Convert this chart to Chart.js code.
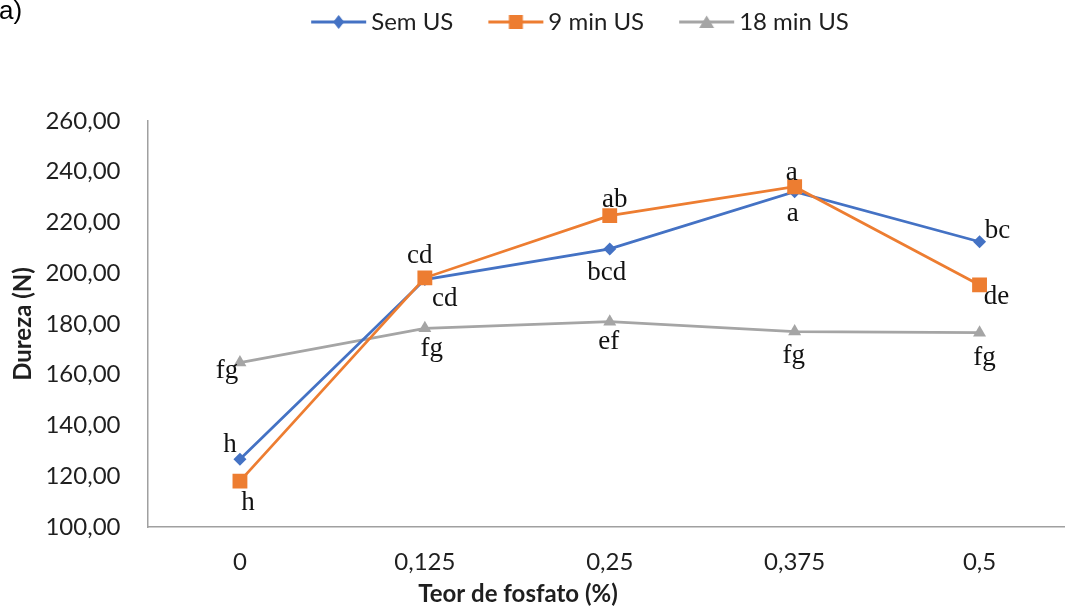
<!DOCTYPE html>
<html><head><meta charset="utf-8">
<script src="https://cdn.jsdelivr.net/npm/chart.js@4"></script>
<style>
html,body{margin:0;padding:0;overflow:hidden;background:#fff;width:1065px;height:610px}
#wrap{position:absolute;left:0;top:0;width:1160px;height:610px}
canvas{display:block}
</style></head><body>
<div id="wrap"><canvas id="c" width="1160" height="610"></canvas></div>
<script>
// ---- data ----
const categories = ['0', '0,125', '0,25', '0,375', '0,5'];
const seriesNames = ['Sem US', '9 min US', '18 min US'];
const semUS = [126.7, 197.5, 209.6, 232.1, 212.4];
const min9US = [118.1, 198.2, 222.7, 234.1, 195.4];
const min18US = [164.8, 178.3, 180.9, 177.0, 176.6];
const semUSLetters = ['h', 'cd', 'bcd', 'a', 'bc'];
const min9USLetters = ['h', 'cd', 'ab', 'a', 'de'];
const min18USLetters = ['fg', 'fg', 'ef', 'fg', 'fg'];
const yMin = 100, yMax = 260, yStep = 20;
const panelLabel = 'a)';
const xAxisTitle = 'Teor de fosfato (%)';
const yAxisTitle = 'Dureza (N)';

// ---- styles ----
const colors = ['#4472C4', '#ED7D31', '#A5A5A5'];
const letterSets = [semUSLetters, min9USLetters, min18USLetters];
// label offsets (dx, baseline dy) relative to each point
const letterOffsets = [
  [[-10, -7], [20, 26], [-3, 31], [-2, 29], [18, -4]],
  [[8, 29], [-5, -15], [5, -9], [-3, -7], [17, 19]],
  [[-13, 15], [7, 28], [-1, 27], [-1, 31], [5, 32]]
];
const textColor = '#1f1f1f';
const sans = 'Lato';

function legendImg(color, shape) {
  const c = document.createElement('canvas');
  c.width = 64; c.height = 24;
  const g = c.getContext('2d');
  g.strokeStyle = color; g.lineWidth = 3;
  g.beginPath(); g.moveTo(8, 12); g.lineTo(63, 12); g.stroke();
  g.fillStyle = color;
  const cx = 35.5, cy = 12;
  g.beginPath();
  if (shape === 'diamond') { g.moveTo(cx, cy - 7); g.lineTo(cx + 5.5, cy); g.lineTo(cx, cy + 7); g.lineTo(cx - 5.5, cy); }
  else if (shape === 'square') { g.rect(cx - 7, cy - 7, 14, 14); }
  else { g.moveTo(cx, cy - 6.5); g.lineTo(cx + 7.5, cy + 6); g.lineTo(cx - 7.5, cy + 6); }
  g.closePath(); g.fill();
  return c;
}
const legendImgs = [legendImg(colors[0], 'diamond'), legendImg(colors[1], 'square'), legendImg(colors[2], 'triangle')];

const annotate = {
  id: 'annotate',
  afterDatasetsDraw(chart) {
    const ctx = chart.ctx;
    ctx.save();
    ctx.font = '27px "Liberation Serif"';
    ctx.fillStyle = '#111';
    ctx.textAlign = 'center';
    ctx.textBaseline = 'alphabetic';
    letterSets.forEach((letters, di) => {
      const meta = chart.getDatasetMeta(di);
      letters.forEach((t, j) => {
        const p = meta.data[j];
        const o = letterOffsets[di][j];
        ctx.fillText(t, p.x + o[0], p.y + o[1]);
      });
    });
    // x axis title
    ctx.font = 'bold 24px ' + sans;
    ctx.fillStyle = textColor;
    ctx.textBaseline = 'middle';
    ctx.fillText(xAxisTitle, 518, 594);
    // panel label
    ctx.font = '26px "Liberation Sans"';
    ctx.fillStyle = '#000';
    ctx.textAlign = 'left';
    ctx.textBaseline = 'alphabetic';
    ctx.fillText(panelLabel, -1, 19);
    ctx.restore();
  }
};

const mk = (i, data, shape, r) => ({
  label: seriesNames[i], data, borderColor: colors[i], backgroundColor: colors[i],
  borderWidth: 2.75, pointStyle: shape, pointRadius: r, pointHoverRadius: r,
  pointBorderWidth: 0, pointBackgroundColor: colors[i], tension: 0, order: [1, 0, 2][i]
});

new Chart(document.getElementById('c'), {
  type: 'line',
  data: {
    labels: categories,
    datasets: [mk(0, semUS, 'rectRot', 6.5), mk(1, min9US, 'rect', 10.5), mk(2, min18US, 'triangle', 7.5)]
  },
  options: {
    responsive: false,
    animation: false,
    devicePixelRatio: 1,
    layout: { padding: { top: -25, left: 0, right: 0, bottom: 0 }, autoPadding: false },
    plugins: {
      tooltip: { enabled: false },
      legend: {
        position: 'top',
        labels: {
          usePointStyle: true,
          pointStyleWidth: 48,
          padding: 35,
          color: textColor,
          font: { family: sans, size: 24 },
          generateLabels(chart) {
            const items = Chart.defaults.plugins.legend.labels.generateLabels(chart);
            items.sort((a, b) => a.datasetIndex - b.datasetIndex);
            items.forEach(it => { it.pointStyle = legendImgs[it.datasetIndex]; });
            return items;
          }
        }
      },
      title: {
        display: true, text: ' ', weight: 500,
        font: { size: 10, lineHeight: 1 },
        padding: { top: 67, bottom: 0 }
      }
    },
    scales: {
      x: {
        type: 'category', offset: true,
        grid: { display: true, drawOnChartArea: false, drawTicks: false, offset: true },
        border: { display: true, color: '#A0A0A0', width: 1.5 },
        ticks: { color: textColor, font: { family: sans, size: 24 }, padding: 21, maxRotation: 0 },
        afterFit(s) { s.height = 83; }
      },
      y: {
        type: 'linear', position: 'left', min: yMin, max: yMax,
        grid: { display: true, drawOnChartArea: false, drawTicks: false },
        border: { display: true, color: '#A0A0A0', width: 1.5 },
        ticks: {
          stepSize: yStep, padding: 27, color: textColor,
          font: { family: sans, size: 24 },
          callback: v => v.toFixed(2).replace('.', ',')
        },
        title: {
          display: true, text: yAxisTitle, color: textColor,
          font: { family: sans, size: 24, weight: 'bold', lineHeight: 1.2 },
          padding: { top: 9, bottom: 0 }
        },
        afterFit(s) { s.width = 147.5; }
      },
      y2: {
        type: 'linear', position: 'right', display: true,
        grid: { display: false }, border: { display: false }, ticks: { display: false },
        afterFit(s) { s.width = 88; }
      }
    }
  },
  plugins: [annotate]
});
</script>
</body></html>
